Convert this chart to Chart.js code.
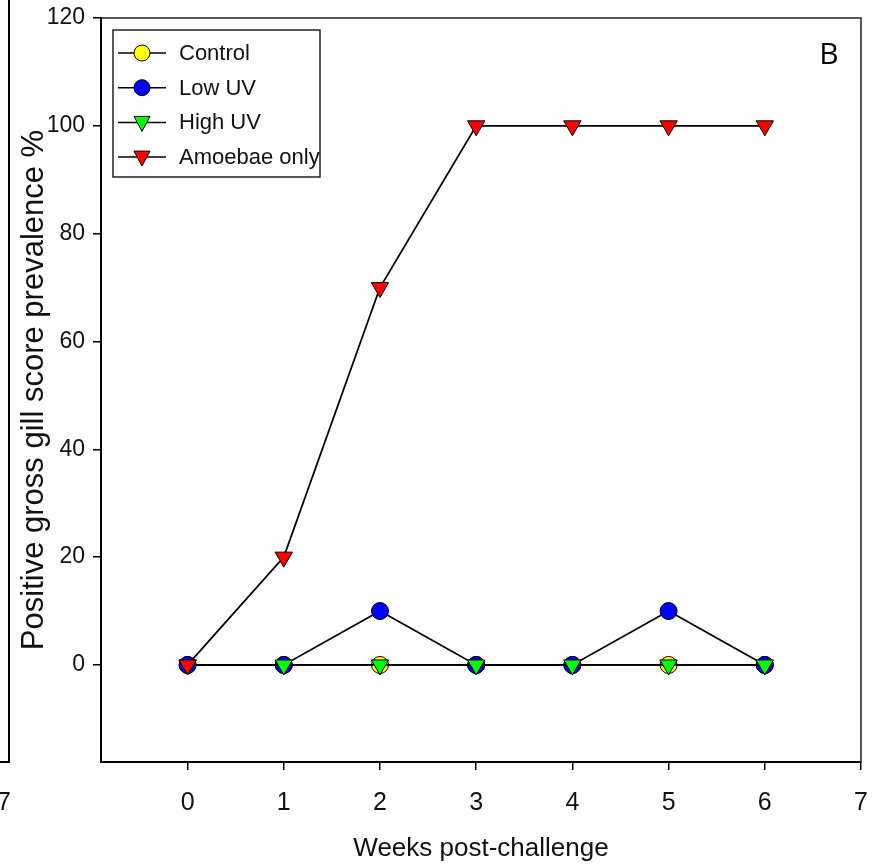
<!DOCTYPE html>
<html>
<head>
<meta charset="utf-8">
<title>Gill score prevalence</title>
<script src="https://cdn.jsdelivr.net/npm/chart.js@4/dist/chart.umd.min.js"></script>
<style>
  html, body { margin: 0; padding: 0; background: #fff; }
  #wrap { width: 876px; height: 868px; position: relative; }
</style>
</head>
<body>
<div id="wrap"><canvas id="myChart" width="876" height="868"></canvas></div>
<script>
var weeks = [0, 1, 2, 3, 4, 5, 6];
var control = [0, 0, 0, 0, 0, 0, 0];
var lowUV = [0, 0, 10, 0, 0, 10, 0];
var highUV = [0, 0, 0, 0, 0, 0, 0];
var amoebaeOnly = [0, 20, 70, 100, 100, 100, 100];
var xTicks = [0, 1, 2, 3, 4, 5, 6, 7];
var yTicks = [0, 20, 40, 60, 80, 100, 120];

var fontFamily = "'Liberation Sans Narrow', 'Liberation Sans', Arial, sans-serif";

function toPoints(vals) {
  return weeks.map(function (w, i) { return { x: w, y: vals[i] }; });
}

var seriesInfo = [
  { label: "Control", color: "#ffff00", shape: "circle" },
  { label: "Low UV", color: "#0000ff", shape: "circle" },
  { label: "High UV", color: "#00ff00", shape: "down" },
  { label: "Amoebae only", color: "#ff0000", shape: "down" }
];

function marker(ctx, shape, x, y, color) {
  ctx.save();
  ctx.fillStyle = color;
  ctx.strokeStyle = "#000";
  ctx.lineWidth = 1;
  ctx.beginPath();
  if (shape == "circle") {
    ctx.arc(x, y, 8, 0, Math.PI * 2);
  } else {
    ctx.moveTo(x - 8, y - 6);
    ctx.lineTo(x + 8, y - 6);
    ctx.lineTo(x, y + 9);
    ctx.closePath();
  }
  ctx.fill();
  ctx.stroke();
  ctx.restore();
}

// frame, inner legend, panel letter and the leftover edge of the other panel
var extras = {
  id: "extras",
  afterDraw: function (chart) {
    var ctx = chart.ctx;
    var a = chart.chartArea;
    ctx.save();
    ctx.strokeStyle = "#222";
    ctx.lineWidth = 1.5;
    ctx.beginPath();
    ctx.moveTo(a.left, a.top);
    ctx.lineTo(a.right, a.top);
    ctx.lineTo(a.right, a.bottom);
    ctx.stroke();

    // left panel remnant
    ctx.lineWidth = 2;
    ctx.strokeStyle = "#000";
    ctx.beginPath();
    ctx.moveTo(9, 0);
    ctx.lineTo(9, a.bottom);
    ctx.lineTo(0, a.bottom);
    ctx.stroke();
    ctx.fillStyle = "#111";
    ctx.font = "25px " + fontFamily;
    ctx.textAlign = "center";
    ctx.textBaseline = "middle";
    ctx.fillText("7", 4, 803);

    // legend box
    var bx = a.left + 12, by = a.top + 12;
    ctx.lineWidth = 1.5;
    ctx.strokeStyle = "#222";
    ctx.strokeRect(bx, by, 207, 147);
    ctx.font = "22px " + fontFamily;
    ctx.textAlign = "left";
    for (var i = 0; i < seriesInfo.length; i++) {
      var ly = by + 23 + i * 34.7;
      ctx.strokeStyle = "#000";
      ctx.lineWidth = 1.5;
      ctx.beginPath();
      ctx.moveTo(bx + 5, ly);
      ctx.lineTo(bx + 53, ly);
      ctx.stroke();
      marker(ctx, seriesInfo[i].shape, bx + 29, ly, seriesInfo[i].color);
      ctx.fillStyle = "#111";
      ctx.fillText(seriesInfo[i].label, bx + 66, ly + 1);
    }

    ctx.fillStyle = "#000";
    ctx.font = "30px 'Open Sans', 'DejaVu Sans', sans-serif";
    ctx.textAlign = "center";
    ctx.fillText("B", 829, a.top + 37);
    ctx.restore();
  }
};

window.addEventListener("load", function () {
  var ctx = document.getElementById("myChart").getContext("2d");
  var vals = [control, lowUV, highUV, amoebaeOnly];
  var datasets = seriesInfo.map(function (s, i) {
    return {
      label: s.label,
      data: toPoints(vals[i]),
      borderColor: "#000",
      borderWidth: 1.8,
      backgroundColor: s.color,
      pointBackgroundColor: s.color,
      pointBorderColor: "#000",
      pointBorderWidth: 1,
      pointStyle: s.shape == "circle" ? "circle" : "triangle",
      pointRotation: s.shape == "circle" ? 0 : 180,
      pointRadius: s.shape == "circle" ? 8.5 : 10,
      order: 4 - i,
      tension: 0
    };
  });

  new Chart(ctx, {
    type: "line",
    data: { datasets: datasets },
    options: {
      responsive: false,
      animation: false,
      events: [],
      layout: { padding: { left: 0, top: 18, right: 15, bottom: 0 } },
      plugins: { legend: { display: false }, tooltip: { enabled: false } },
      scales: {
        x: {
          type: "linear",
          min: -0.9,
          max: 7,
          afterBuildTicks: function (scale) {
            scale.ticks = xTicks.map(function (v) { return { value: v }; });
          },
          afterFit: function (scale) {
            scale.height = 106;
            scale.paddingLeft = 0;
            scale.paddingRight = 0;
          },
          grid: { drawOnChartArea: false, drawTicks: true, tickLength: 8, color: "#000", lineWidth: 1.5 },
          border: { display: true, color: "#000", width: 2 },
          ticks: { color: "#111", padding: 18, maxRotation: 0, autoSkip: false, font: { size: 25, family: fontFamily } },
          title: { display: true, text: "Weeks post-challenge", color: "#111", padding: { top: 0, bottom: 4 }, font: { size: 26, family: fontFamily } }
        },
        y: {
          min: -18,
          max: 120,
          afterBuildTicks: function (scale) {
            scale.ticks = yTicks.map(function (v) { return { value: v }; });
          },
          afterFit: function (scale) {
            scale.width = 101;
            scale.paddingTop = 0;
            scale.paddingBottom = 0;
          },
          grid: { drawOnChartArea: false, drawTicks: true, tickLength: 8, color: "#000", lineWidth: 1.5 },
          border: { display: true, color: "#000", width: 2 },
          ticks: { color: "#111", padding: 8, font: { size: 23, family: fontFamily } },
          title: { display: true, text: "Positive gross gill score prevalence %", color: "#111", padding: { top: 16, bottom: 0 }, font: { size: 31, family: fontFamily } }
        }
      }
    },
    plugins: [extras]
  });
});
</script>
</body>
</html>
